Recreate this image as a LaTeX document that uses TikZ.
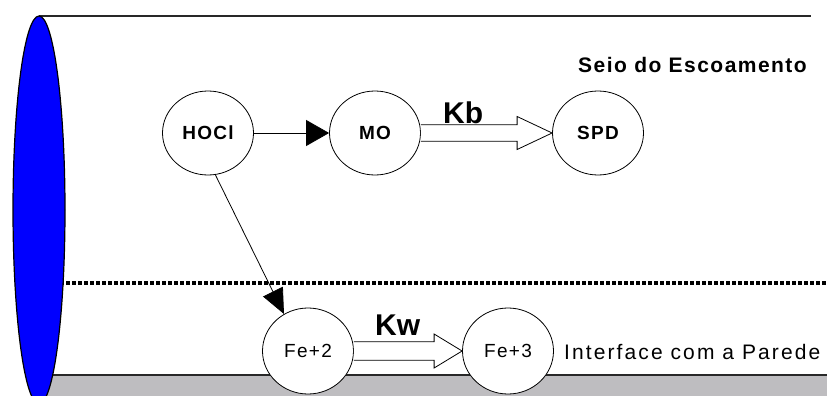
\documentclass[tikz,border=0pt]{standalone}
\usepackage{fontspec}
\setmainfont{Liberation Sans}
\newfontfamily\lblA[LetterSpace=7]{Liberation Sans}
\newfontfamily\lblB[LetterSpace=10]{Liberation Sans}
\usetikzlibrary{shapes.geometric,arrows.meta,calc}
\definecolor{wallgray}{RGB}{190,189,192}
\definecolor{pipeblue}{RGB}{0,0,255}
\definecolor{edgedark}{RGB}{40,40,40}
\tikzset{
  species/.style={ellipse, draw, line width=0.8pt, fill=white, minimum width=91pt,
    minimum height=84pt, inner sep=0pt, font=\lblA\bfseries\fontsize{19}{20}\selectfont},
  ionsp/.style={species, minimum width=91pt, minimum height=86pt, font=\lblA\fontsize{19}{20}\selectfont},
  thinarrow/.style={line width=0.8pt},
  hollowarrow/.style={draw, fill=white, line width=0.8pt, line join=miter},
  ratelabel/.style={anchor=base west, inner sep=0pt, font=\bfseries\fontsize{30}{30}\selectfont},
  zonelabel/.style={anchor=base west, inner sep=0pt},
  pipeedge/.style={line width=2pt, edgedark}
}
\begin{document}
\begin{tikzpicture}[x=1pt,y=-1pt]
\clip (0,0) rectangle (827,396);
% wall
\fill[wallgray] (39,375) rectangle (827,400);
\draw[pipeedge] (39,375) -- (827,375);
\draw[pipeedge] (39,16) -- (811,16);
% interface line
\draw[line width=3.5pt, dash pattern=on 4pt off 2pt] (60,283) -- (827,283);
% pipe section
\draw[fill=pipeblue, line width=1.2pt] (39,210) ellipse [x radius=26, y radius=194];
% species
\node[species] (hocl) at (208,133) {HOCl};
\node[species] (mo) at (375,133) {MO};
\node[species] (spd) at (598,133) {SPD};
\node[ionsp] (fe2) at (308,351) {Fe+2};
\node[ionsp] (fe3) at (508,351) {Fe+3};
% reactions
\draw[thinarrow, -{Triangle[length=23pt,width=26pt]}] (hocl) -- (mo);
\draw[thinarrow, -{Triangle[length=25pt,width=22pt]}] (hocl.280) -- (fe2.123);
\draw[hollowarrow] ($(mo.east)+(0,-8.3)$) -- ($(spd.west)+(-35,-8.3)$) -- ($(spd.west)+(-35,-16.5)$)
  -- (spd.west) -- ($(spd.west)+(-35,16.5)$) -- ($(spd.west)+(-35,8.3)$) -- ($(mo.east)+(0,8.3)$);
\draw[hollowarrow] ($(fe2.east)+(0,-9.3)$) -- ($(fe3.west)+(-28,-9.3)$) -- ($(fe3.west)+(-28,-17)$)
  -- (fe3.west) -- ($(fe3.west)+(-28,17)$) -- ($(fe3.west)+(-28,9.3)$) -- ($(fe2.east)+(0,9.3)$);
% labels
\node[ratelabel] (kb) at (443,123) {Kb};
\node[ratelabel] (kw) at (375,335) {Kw};
\node[zonelabel, font=\lblA\bfseries\fontsize{21}{21}\selectfont] (seio) at (578,73) {Seio do Escoamento};
\node[zonelabel, font=\lblB\fontsize{21}{21}\selectfont] (iface) at (564,359.5) {Interface com a Parede};
\end{tikzpicture}
\end{document}
